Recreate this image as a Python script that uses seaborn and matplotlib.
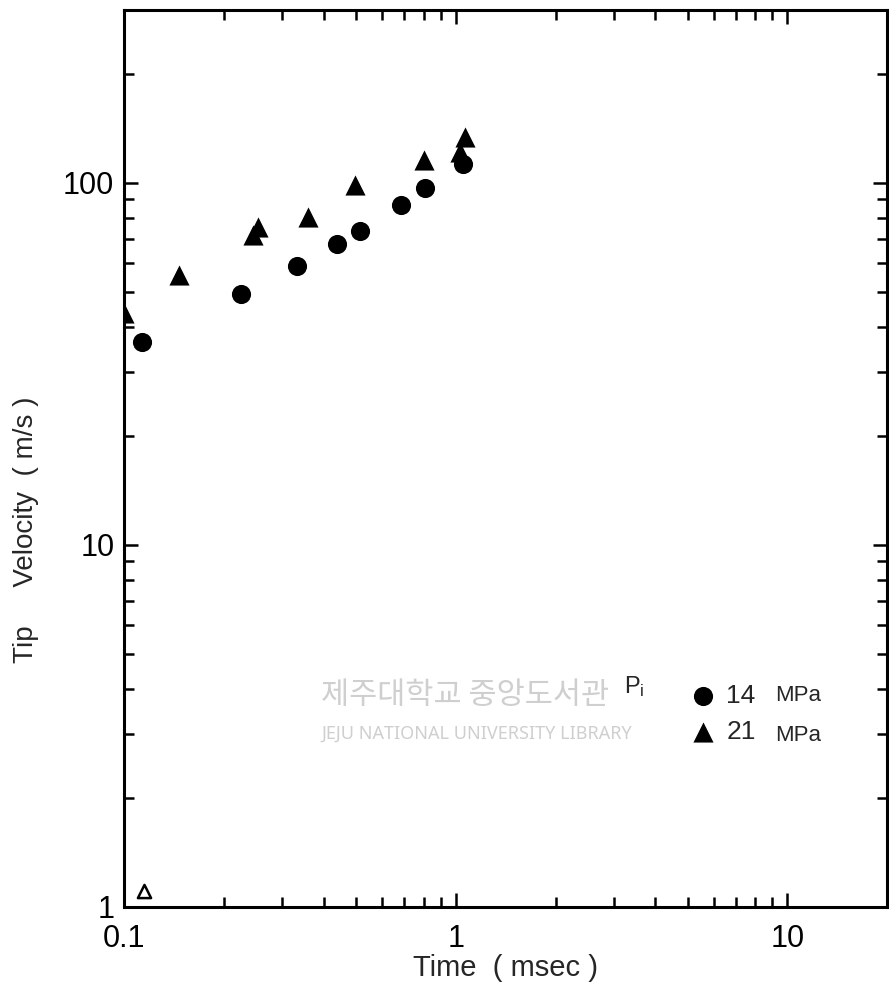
"""
Tip velocity vs time, log-log, two initial pressures
"""

import numpy as np
import pandas as pd
import matplotlib
matplotlib.use("Agg")
import matplotlib.pyplot as plt
from matplotlib.ticker import FixedLocator, FixedFormatter, LogLocator, NullFormatter
import seaborn as sns

# 14 MPa (filled circles)
time_14 = [0.113, 0.226, 0.333, 0.439, 0.515, 0.682, 0.807, 1.05]
vel_14 = [36.4, 49.3, 59.0, 67.8, 73.6, 87.1, 96.9, 113]

# 21 MPa (filled triangles)
time_21 = [0.10, 0.146, 0.244, 0.254, 0.359, 0.497, 0.801, 1.03, 1.07]
vel_21 = [43.6, 55.7, 71.8, 75.5, 80.5, 98.9, 115.8, 121.8, 134]

# lone open triangle near the bottom axis
time_open = [0.115]
vel_open = [1.11]

x_ticks = [0.1, 1, 10]
x_labels = ["0.1", "1", "10"]
y_ticks = [1, 10, 100]
y_labels = ["1", "10", "100"]
pressures = ["14", "21"]


def main():
    sns.set_style("ticks")
    plt.rcParams["font.family"] = ["Liberation Sans", "DejaVu Sans"]

    df = pd.DataFrame({
        "time": time_14 + time_21,
        "vel": vel_14 + vel_21,
        "p": [pressures[0]] * len(time_14) + [pressures[1]] * len(time_21),
    })

    fig = plt.figure(figsize=(8.89, 9.84), dpi=100)
    ax = fig.add_axes([0.1395, 0.0783, 0.8585, 0.9115])

    sns.scatterplot(data=df[df.p == "14"], x="time", y="vel", marker="o",
                    s=190, color="black", edgecolor="black", linewidth=0,
                    ax=ax, label="14", legend=False)
    sns.scatterplot(data=df[df.p == "21"], x="time", y="vel", marker="^",
                    s=210, color="black", edgecolor="black", linewidth=0,
                    ax=ax, label="21", legend=False)
    sns.scatterplot(x=time_open, y=vel_open, marker="^", s=90,
                    facecolor="white", edgecolor="black", linewidth=1.8,
                    ax=ax, legend=False)

    ax.set_xscale("log")
    ax.set_yscale("log")
    ax.set_xlim(0.1, 20)
    ax.set_ylim(1, 300)

    ax.xaxis.set_major_locator(FixedLocator(x_ticks))
    ax.xaxis.set_major_formatter(FixedFormatter(x_labels))
    ax.yaxis.set_major_locator(FixedLocator(y_ticks))
    ax.yaxis.set_major_formatter(FixedFormatter(y_labels))
    for axis in (ax.xaxis, ax.yaxis):
        axis.set_minor_locator(LogLocator(base=10, subs=np.arange(2, 10)))
        axis.set_minor_formatter(NullFormatter())

    ax.tick_params(which="both", direction="in", top=True, right=True,
                   width=1.8, colors="black")
    ax.tick_params(which="major", length=10)
    ax.tick_params(which="minor", length=7)
    ax.tick_params(axis="x", which="major", labelsize=22, pad=12)
    ax.tick_params(axis="y", which="major", labelsize=22, pad=7)
    for s in ax.spines.values():
        s.set_linewidth(2.2)
        s.set_color("black")

    ax.set_xlabel("Time  ( msec )", fontsize=21, labelpad=0)
    ax.set_ylabel("Tip     Velocity  ( m/s )", fontsize=20)
    ax.yaxis.set_label_coords(-0.112, 0.42)

    # watermark of the scanned source
    ax.text(0.447, 0.236, "제주대학교 중앙도서관", transform=ax.transAxes,
            fontsize=22, color="#cfcfcf", ha="center", va="center",
            family=["Noto Sans CJK KR", "DejaVu Sans"], zorder=0)
    ax.text(0.462, 0.193, "JEJU NATIONAL UNIVERSITY LIBRARY", transform=ax.transAxes,
            fontsize=13, color="#cfcfcf", ha="center", va="center",
            family=["Noto Sans", "DejaVu Sans"], zorder=0)

    handles, labels = ax.get_legend_handles_labels()
    ax.legend(handles, labels, loc="center left",
              bbox_to_anchor=(0.72, 0.2155), frameon=False,
              fontsize=19, handletextpad=0.3, labelspacing=0.45,
              handlelength=1.2, borderpad=0)
    ax.text(0.668, 0.246, r"$\mathregular{P_i}$", transform=ax.transAxes,
            fontsize=17, ha="center", va="center")
    ax.text(0.853, 0.236, "MPa", transform=ax.transAxes, fontsize=16,
            va="center")
    ax.text(0.853, 0.191, "MPa", transform=ax.transAxes, fontsize=16,
            va="center")

    fig.savefig("out.png", dpi=100)


if __name__ == "__main__":
    main()
